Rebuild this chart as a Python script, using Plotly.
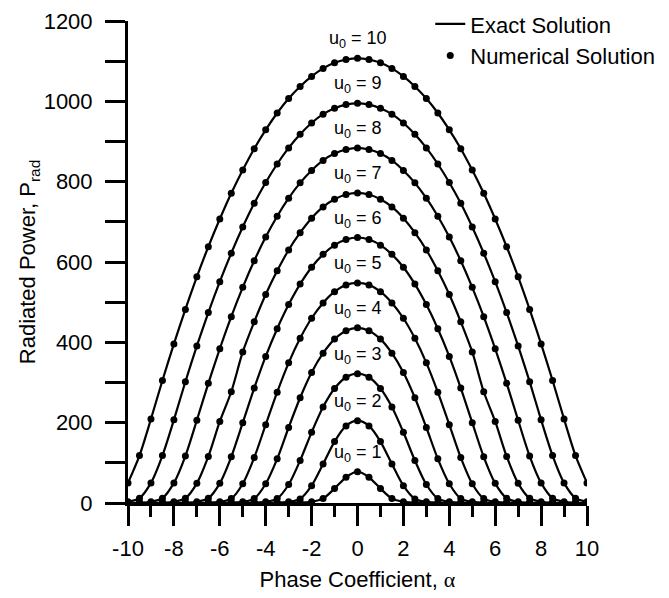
import plotly.graph_objects as go

# Phase coefficient grid shared by every curve
alpha = [-10, -9.5, -9, -8.5, -8, -7.5, -7, -6.5, -6, -5.5, -5, -4.5, -4, -3.5, -3, -2.5, -2, -1.5, -1, -0.5,
         0, 0.5, 1, 1.5, 2, 2.5, 3, 3.5, 4, 4.5, 5, 5.5, 6, 6.5, 7, 7.5, 8, 8.5, 9, 9.5, 10]

# Radiated power for each u0 value
p_u1 = [0, 0, 0, 0, 0, 0, 0, 0, 0, 0, 0, 0, 0, 0, 0, 1, 3, 11, 36, 64,
        78, 64, 36, 11, 3, 1, 0, 0, 0, 0, 0, 0, 0, 0, 0, 0, 0, 0, 0, 0, 0]
p_u2 = [0, 0, 0, 0, 0, 0, 0, 0, 0, 0, 0, 0, 0, 1, 3, 10, 43, 97, 153, 192,
        205, 192, 153, 97, 43, 10, 3, 1, 0, 0, 0, 0, 0, 0, 0, 0, 0, 0, 0, 0, 0]
p_u3 = [0, 0, 0, 0, 0, 0, 0, 0, 0, 0, 0, 1, 3, 11, 46, 106, 176, 239, 285, 313,
        322, 313, 285, 239, 176, 106, 46, 11, 3, 1, 0, 0, 0, 0, 0, 0, 0, 0, 0, 0, 0]
p_u4 = [0, 0, 0, 0, 0, 0, 0, 0, 0, 1, 3, 11, 48, 110, 188, 262, 325, 373, 408, 429,
        436, 429, 408, 373, 325, 262, 188, 110, 48, 11, 3, 1, 0, 0, 0, 0, 0, 0, 0, 0, 0]
p_u5 = [0, 0, 0, 0, 0, 0, 0, 1, 3, 11, 48, 113, 195, 276, 349, 410, 460, 498, 526, 543,
        548, 543, 526, 498, 460, 410, 349, 276, 195, 113, 48, 11, 3, 1, 0, 0, 0, 0, 0, 0, 0]
p_u6 = [0, 0, 0, 0, 0, 1, 3, 12, 49, 115, 200, 286, 365, 434, 494, 545, 587, 619, 642, 656,
        661, 656, 642, 619, 587, 545, 494, 434, 365, 286, 200, 115, 49, 12, 3, 1, 0, 0, 0, 0, 0]
p_u7 = [0, 0, 0, 1, 3, 12, 49, 116, 203, 277, 376, 451, 519, 578, 630, 673, 709, 737, 756, 768,
        772, 768, 756, 737, 709, 673, 630, 578, 519, 451, 376, 277, 203, 116, 49, 12, 3, 1, 0, 0, 0]
p_u8 = [0, 1, 3, 12, 50, 117, 206, 298, 384, 464, 537, 603, 662, 714, 759, 797, 828, 853, 870, 880,
        884, 880, 870, 853, 828, 797, 759, 714, 662, 603, 537, 464, 384, 298, 206, 117, 50, 12, 3, 1, 0]
p_u9 = [3, 12, 50, 118, 207, 302, 391, 474, 551, 622, 687, 746, 798, 844, 884, 918, 946, 968, 983, 992,
        995, 992, 983, 968, 946, 918, 884, 844, 798, 746, 687, 622, 551, 474, 391, 302, 207, 118, 50, 12, 3]
p_u10 = [50, 118, 209, 305, 396, 482, 563, 638, 707, 771, 829, 882, 929, 971, 1007, 1037, 1062, 1082, 1096, 1104,
         1107, 1104, 1096, 1082, 1062, 1037, 1007, 971, 929, 882, 829, 771, 707, 638, 563, 482, 396, 305, 209, 118, 50]

u0_values = [1, 2, 3, 4, 5, 6, 7, 8, 9, 10]
series = [p_u1, p_u2, p_u3, p_u4, p_u5, p_u6, p_u7, p_u8, p_u9, p_u10]

# Axis tick labels (plain hyphen for negatives)
x_tick_values = [-10, -8, -6, -4, -2, 0, 2, 4, 6, 8, 10]
x_tick_labels = ["-10", "-8", "-6", "-4", "-2", "0", "2", "4", "6", "8", "10"]
y_tick_values = [0, 200, 400, 600, 800, 1000, 1200]
y_tick_labels = ["0", "200", "400", "600", "800", "1000", "1200"]

FONT = "Liberation Sans, Arial, sans-serif"
BLACK = "#000000"

fig = go.Figure()

# Exact solution: smooth curves
for u0, vals in zip(u0_values, series):
    fig.add_trace(go.Scatter(
        x=alpha, y=vals, mode="lines",
        line=dict(color=BLACK, width=2.2, shape="spline", smoothing=0.8),
        name="Exact Solution", legendgroup="exact",
        showlegend=(u0 == 10), hoverinfo="skip",
    ))

# Numerical solution: dots
for u0, vals in zip(u0_values, series):
    fig.add_trace(go.Scatter(
        x=alpha, y=vals, mode="markers",
        marker=dict(color=BLACK, size=7, symbol="circle"),
        name="Numerical Solution", legendgroup="numerical",
        showlegend=(u0 == 10),
    ))

# u0 labels above each peak
for u0, vals in zip(u0_values, series):
    peak = vals[alpha.index(0)]
    fig.add_annotation(
        x=0, y=peak, xref="x", yref="y",
        text=f"u<sub>0</sub> = {u0}",
        showarrow=False, yanchor="bottom", xanchor="center", yshift=5,
        font=dict(family=FONT, size=18, color=BLACK),
    )

axis_common = dict(
    showline=True, linecolor=BLACK, linewidth=3,
    ticks="outside", tickcolor=BLACK, tickwidth=3,
    showgrid=False, zeroline=False, mirror=False,
    tickfont=dict(family=FONT, size=22, color=BLACK),
)

fig.update_xaxes(
    range=[-10, 10], tickmode="array", tickvals=x_tick_values, ticktext=x_tick_labels, ticklen=20,
    minor=dict(dtick=1, tick0=-10, ticklen=11, tickwidth=3, tickcolor=BLACK, ticks="outside", showgrid=False),
    title=dict(
        text='Phase Coefficient, <span style="font-family:Liberation Serif, Times New Roman, serif">α</span>',
        font=dict(family=FONT, size=22, color=BLACK), standoff=12,
    ),
    ticklabelstandoff=4,
    **axis_common,
)

fig.update_yaxes(
    range=[0, 1200], tickmode="array", tickvals=y_tick_values, ticktext=y_tick_labels, ticklen=20,
    minor=dict(dtick=100, tick0=0, ticklen=20, tickwidth=3, tickcolor=BLACK, ticks="outside", showgrid=False),
    title=dict(
        text="Radiated Power, P<sub>rad</sub>",
        font=dict(family=FONT, size=22, color=BLACK), standoff=2,
    ),
    ticklabelstandoff=8,
    **axis_common,
)

fig.update_layout(
    width=669, height=598,
    margin=dict(l=128, r=82, t=21, b=95, autoexpand=False),
    paper_bgcolor="white", plot_bgcolor="white",
    font=dict(family=FONT, color=BLACK),
    showlegend=True,
    legend=dict(
        x=0.6585, y=1.037, xanchor="left", yanchor="top",
        bgcolor="rgba(0,0,0,0)", borderwidth=0,
        font=dict(family=FONT, size=22, color=BLACK),
        tracegroupgap=0,
    ),
)

fig.write_html("out.html")
